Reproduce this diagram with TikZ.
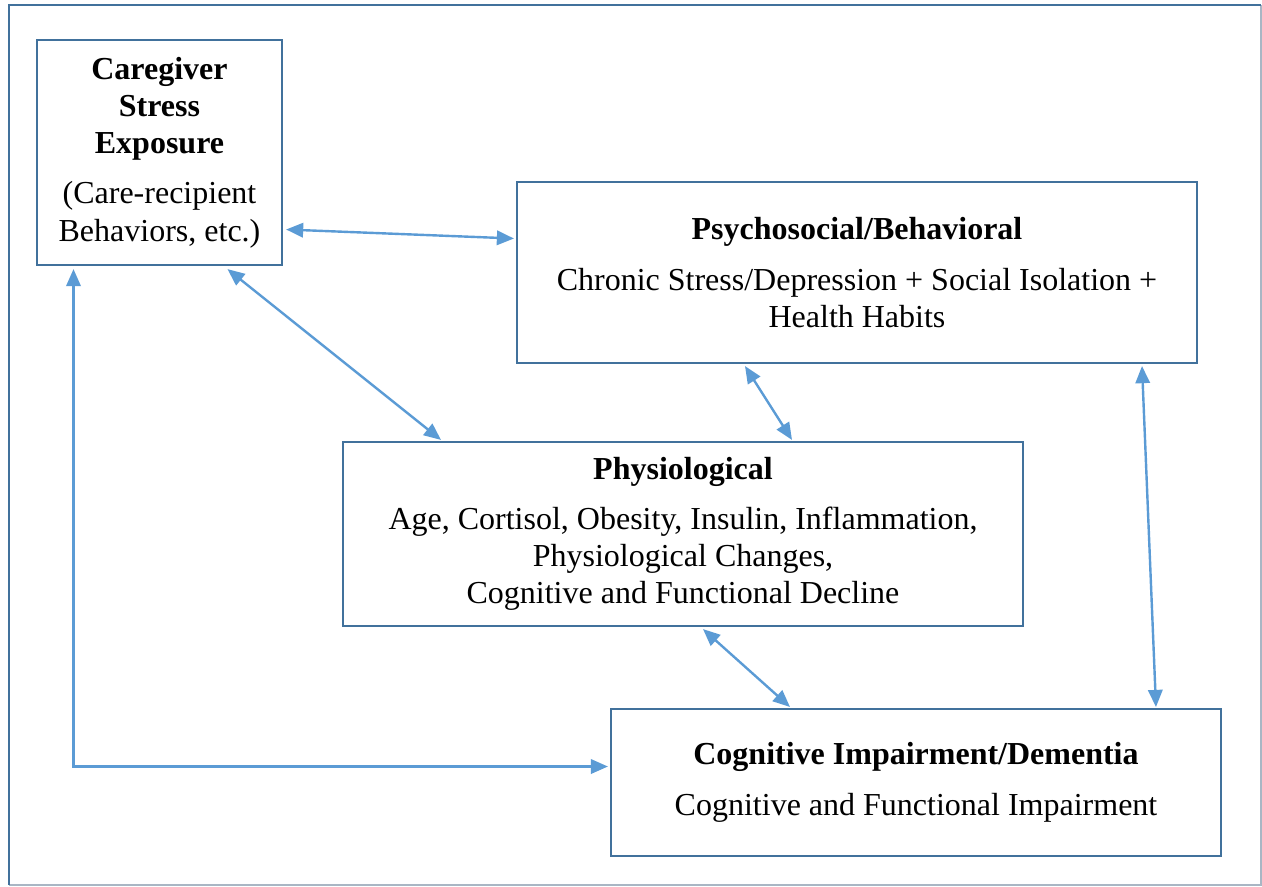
\documentclass[tikz,border=0pt]{standalone}
\usepackage{fontspec}
\setmainfont{Liberation Serif}
\usepackage{tikz}
\usetikzlibrary{arrows.meta,calc}
\definecolor{boxblue}{HTML}{41719C}
\definecolor{arrowblue}{HTML}{5B9BD5}
\definecolor{framegray}{HTML}{A9B6C4}
\tikzstyle{line} = [draw, arrowblue, line width=0.9pt, {Triangle[length=6.4pt,width=5.4pt]}-{Triangle[length=6.4pt,width=5.4pt]}]
\tikzstyle{block} = [draw=boxblue, line width=0.8pt, rectangle, align=center, inner sep=0pt, font=\fontsize{12}{13.9}\selectfont]

\begin{document}
\begin{tikzpicture}[x=0.375pt, y=-0.375pt]
        \useasboundingbox (0,0) rectangle (1262,886);
        \draw[framegray, line width=0.6pt] (1261,5) -- (1261,885) -- (9,885);
        \draw[boxblue, line width=1pt] (9,885) -- (9,5) -- (1261,5);
        \node[block, minimum width=91.9pt, minimum height=84.4pt] (care) at (159.5,152.5)
            {\textbf{Caregiver}\\\textbf{Stress}\\\textbf{Exposure}\\[5pt](Care-recipient\\Behaviors, etc.)};
        \node[block, minimum width=255pt, minimum height=67.9pt] (psych) at (857,272.5)
            {\textbf{Psychosocial/Behavioral}\\[5pt]Chronic Stress/Depression + Social Isolation +\\Health Habits};
        \node[block, minimum width=255pt, minimum height=69pt] (physio) at (683,534)
            {\textbf{Physiological}\\[5pt]Age, Cortisol, Obesity, Insulin, Inflammation,\\Physiological Changes,\\Cognitive and Functional Decline};
        \node[block, minimum width=228.75pt, minimum height=55.1pt] (cog) at (916,782.5)
            {\textbf{Cognitive Impairment/Dementia}\\[5pt]Cognitive and Functional Impairment};
        \path[line] ($(care.east)+(3,77)$) -- ($(psych.west)+(-2,-34)$);
        \path[line] ($(care.south)+(68,3)$) -- ($(physio.north)+(-242,-1)$);
        \path[line] ($(care.south)+(-86,3)$) |- ($(cog.west)+(-2,-16)$);
        \path[line] ($(psych.south)+(-112,2)$) -- ($(physio.north)+(109,-1)$);
        \path[line] ($(psych.south)+(285,2)$) -- ($(cog.north)+(240,-1)$);
        \path[line] ($(physio.south)+(20,2)$) -- ($(cog.north)+(-126,-1)$);
\end{tikzpicture}
\end{document}
